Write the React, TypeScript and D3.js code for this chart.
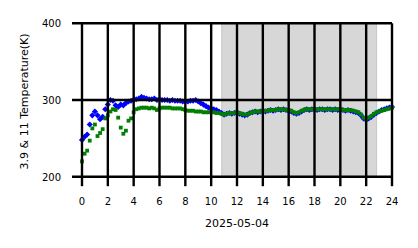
import React from "react";
import * as d3 from "d3";

const hours: number[] = d3.range(0, 24.001, 0.2).map((v) => +v.toFixed(1));

const temp11: number[] = [
  220, 230, 234, 247, 263, 268, 253, 257, 262, 276,
  280, 285, 288, 287, 277, 264, 256, 260, 273, 276,
  284, 288, 289, 290, 290, 290, 289, 290, 289, 287,
  289, 290, 290, 290, 290, 289, 289, 289, 289, 288,
  287, 286, 286, 286, 285, 285, 285, 284, 284, 284,
  284, 284, 283, 283, 282, 281, 282, 283, 283, 283,
  284, 283, 282, 281, 281, 283, 284, 285, 285, 285,
  286, 286, 286, 287, 287, 287, 288, 288, 288, 287,
  287, 286, 284, 283, 284, 286, 287, 288, 288, 288,
  288, 288, 288, 288, 288, 288, 288, 288, 288, 288,
  288, 287, 287, 287, 287, 286, 285, 284, 281, 277,
  275, 277, 279, 282, 284, 285, 286, 287, 288, 289,
  290,
];

const temp39: number[] = [
  248, 252, 255, 268, 280, 285, 280, 275, 278, 288,
  294, 300, 299, 293, 291, 294, 293, 296, 298, 299,
  300, 301, 302, 304, 303, 302, 301, 301, 302, 300,
  301, 300, 300, 300, 299, 300, 299, 299, 299, 298,
  298, 298, 299, 299, 300, 298, 296, 294, 292, 290,
  289, 288, 287, 285, 283, 281, 282, 283, 282, 283,
  284, 282, 281, 280, 281, 283, 284, 285, 284, 285,
  286, 285, 286, 287, 286, 287, 288, 287, 288, 287,
  286, 285, 283, 282, 283, 285, 287, 288, 287, 288,
  288, 287, 288, 288, 287, 288, 288, 287, 288, 287,
  287, 287, 286, 287, 286, 285, 284, 283, 280, 276,
  274, 276, 278, 281, 283, 285, 287, 288, 289, 290,
  291,
];

const xTicks: number[] = [0, 2, 4, 6, 8, 10, 12, 14, 16, 18, 20, 22, 24];
const yTicks: number[] = [200, 300, 400];
const nightSpan: number[] = [10.82, 22.81];
const dateLabel = "2025-05-04";
const yLabel = "3.9 & 11 Temperature(K)";

export default function App() {
  const W = 418;
  const H = 248;
  const left = 82;
  const right = 392;
  const top = 23.3;
  const bottom = 176.7;
  const x = d3.scaleLinear().domain([0, 24]).range([left, right]);
  const y = d3.scaleLinear().domain([200, 400]).range([bottom, top]);
  const font = "DejaVu Sans, sans-serif";
  const diamond = d3.symbol().type(d3.symbolDiamond2).size(24)() as string;
  const sq = 3.8;

  return (
    <svg
      width={W}
      height={H}
      style={{ position: "absolute", left: 0, top: 0, background: "#fff" }}
    >
      <rect
        x={x(nightSpan[0])}
        y={top}
        width={x(nightSpan[1]) - x(nightSpan[0])}
        height={bottom - top}
        fill="#d7d7d7"
        stroke="#c6c6c6"
        strokeWidth={1}
      />
      <g>
        {hours.map((h, i) => (
          <path
            key={"b" + i}
            d={diamond}
            transform={`translate(${x(h)},${y(temp39[i])})`}
            fill="#0000ff"
          />
        ))}
      </g>
      <g>
        {hours.map((h, i) => (
          <rect
            key={"g" + i}
            x={x(h) - sq / 2}
            y={y(temp11[i]) - sq / 2}
            width={sq}
            height={sq}
            fill="#008000"
          />
        ))}
      </g>
      <g stroke="#000" strokeWidth={2.4}>
        {xTicks.map((t) => (
          <line key={"vx" + t} x1={x(t)} x2={x(t)} y1={top} y2={bottom + 9.5} />
        ))}
        {yTicks.map((t) => (
          <line key={"hy" + t} x1={left - 10} x2={right} y1={y(t)} y2={y(t)} />
        ))}
      </g>
      <g fontFamily={font} fill="#000">
        {xTicks.map((t) => (
          <text key={"xt" + t} x={x(t)} y={201.2} fontSize={10} textAnchor="middle" dominantBaseline="central">
            {t}
          </text>
        ))}
        {yTicks.map((t) => (
          <text key={"yt" + t} x={61} y={y(t) + 0.5} fontSize={10} textAnchor="end" dominantBaseline="central">
            {t}
          </text>
        ))}
        <text x={(left + right) / 2} y={223} fontSize={11} textAnchor="middle" dominantBaseline="central">
          {dateLabel}
        </text>
        <text
          transform={`translate(24.5,101.4) rotate(-90)`}
          fontSize={11}
          textAnchor="middle"
          dominantBaseline="central"
        >
          {yLabel}
        </text>
      </g>
    </svg>
  );
}
